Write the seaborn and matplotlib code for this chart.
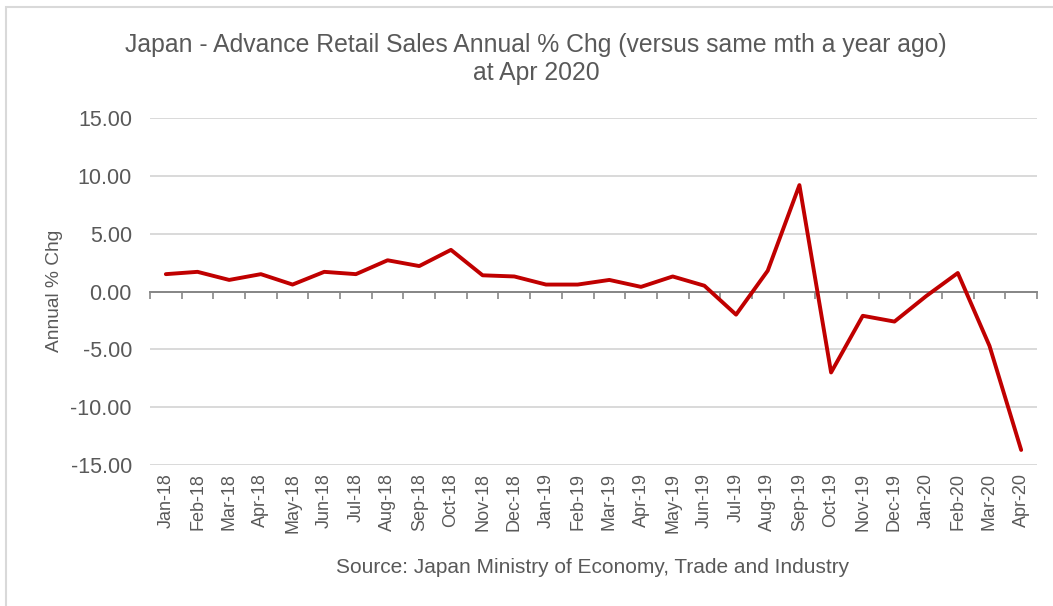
import numpy as np
import pandas as pd
import matplotlib
matplotlib.use("Agg")
import matplotlib.pyplot as plt
from matplotlib.patches import Rectangle
import seaborn as sns

# Monthly year-on-year change in Japan's advance retail sales (%)
months = ["Jan-18", "Feb-18", "Mar-18", "Apr-18", "May-18", "Jun-18", "Jul-18",
          "Aug-18", "Sep-18", "Oct-18", "Nov-18", "Dec-18", "Jan-19", "Feb-19",
          "Mar-19", "Apr-19", "May-19", "Jun-19", "Jul-19", "Aug-19", "Sep-19",
          "Oct-19", "Nov-19", "Dec-19", "Jan-20", "Feb-20", "Mar-20", "Apr-20"]
annual_chg = [1.5, 1.7, 1.0, 1.5, 0.6, 1.7, 1.5, 2.7, 2.2, 3.6, 1.4, 1.3, 0.6, 0.6,
              1.0, 0.4, 1.3, 0.5, -2.0, 1.8, 9.2, -7.0, -2.1, -2.6, -0.4, 1.6, -4.7, -13.7]
y_ticks = [-15, -10, -5, 0, 5, 10, 15]

title = "Japan - Advance Retail Sales Annual % Chg (versus same mth a year ago)\nat Apr 2020"
y_label = "Annual % Chg"
source = "Source: Japan Ministry of Economy, Trade and Industry"

df = pd.DataFrame({"month": months, "chg": annual_chg})

sns.set_theme(style="white")
plt.rcParams["font.family"] = ["Liberation Sans", "DejaVu Sans"]

TEXT = "#595959"
AXIS = "#868686"
GRID = "#d9d9d9"
RED = "#C00000"

fig = plt.figure(figsize=(10.53, 6.06), dpi=100)
fig.patch.set_facecolor("white")
ax = fig.add_axes([150 / 1053, 1 - 465 / 606, (1037 - 150) / 1053, (465 - 118) / 606])

sns.lineplot(data=df, x="month", y="chg", sort=False, color=RED, linewidth=2.8,
             ax=ax, zorder=3)

n = len(months)
ax.set_xlim(-0.5, n - 0.5)
ax.set_ylim(-15, 15)
ax.set_yticks(y_ticks)
ax.set_yticklabels([f"{v:.2f}" for v in y_ticks])
ax.tick_params(axis="y", length=0, pad=13, labelsize=15.5, labelcolor=TEXT)
ax.yaxis.grid(True, color=GRID, linewidth=1.4)
ax.set_axisbelow(True)
ax.set_xlabel("")
ax.set_ylabel("")

# Zero line with tick marks between categories
for side in ("top", "left", "right"):
    ax.spines[side].set_visible(False)
ax.spines["bottom"].set_position(("data", 0))
ax.spines["bottom"].set_color(AXIS)
ax.spines["bottom"].set_linewidth(1.4)
ax.set_xticks(np.arange(-0.5, n, 1.0))
ax.tick_params(axis="x", bottom=True, length=5, width=1.2, color=AXIS,
               direction="out", labelbottom=False)

# Category labels along the bottom of the plot area
ax2 = ax.twiny()
ax2.set_xlim(ax.get_xlim())
ax2.xaxis.set_ticks_position("bottom")
ax2.set_xticks(range(n))
ax2.set_xticklabels(months, rotation=90)
ax2.tick_params(axis="x", length=0, pad=6, labelsize=13, labelcolor=TEXT,
                labeltop=False, labelbottom=True)
for side in ax2.spines:
    ax2.spines[side].set_visible(False)
ax2.grid(False)

fig.text(0.509, 0.903, title, ha="center", va="center", fontsize=17.8,
         color=TEXT, linespacing=1.2)
fig.text(0.052, 0.52, y_label, rotation=90, ha="center", va="center",
         fontsize=13.8, color=TEXT)
fig.text(0.563, 0.064, source, ha="center", va="center", fontsize=15, color=TEXT)

# Light frame around the chart
fig.patches.append(Rectangle((6 / 1053, -0.1), 1.2, 1.1 - 7 / 606,
                             transform=fig.transFigure, fill=False,
                             edgecolor="#d9d9d9", linewidth=1.5))

fig.savefig("out.png", dpi=100)
